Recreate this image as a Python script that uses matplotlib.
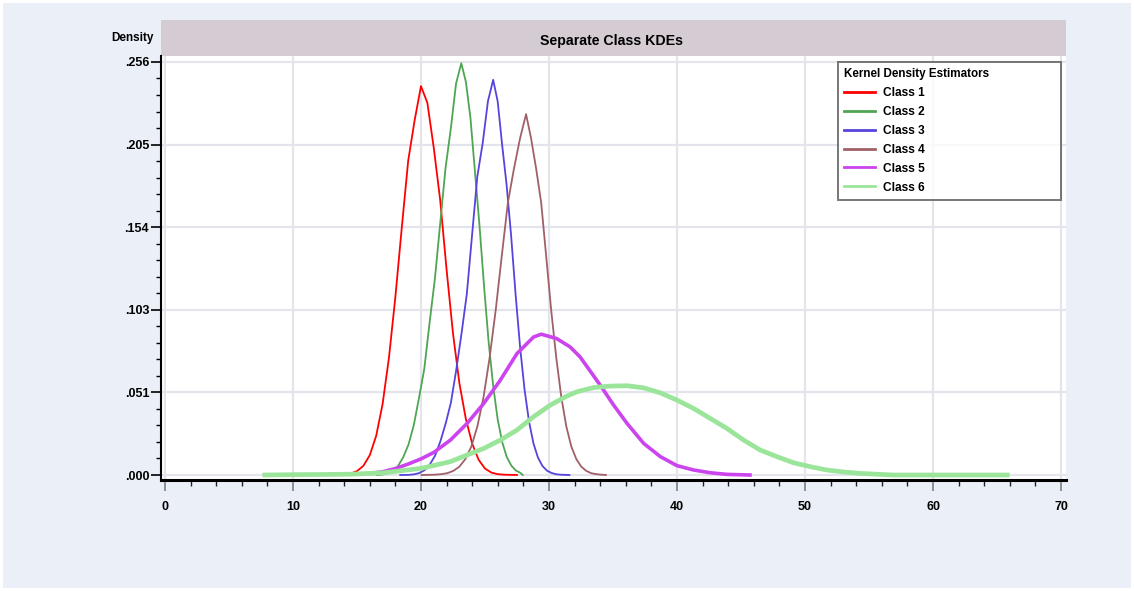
import numpy as np
import matplotlib.pyplot as plt
from matplotlib.patches import Rectangle

plt.rcParams['font.family'] = ['Liberation Sans', 'DejaVu Sans']
plt.rcParams['font.weight'] = 'bold'

# Class 1 (red)
x1 = [14.3, 14.5, 15.0, 15.5, 16.0, 16.5, 17.0, 17.5, 18.0, 18.5, 19.0, 19.5, 20.0,
      20.5, 21.0, 21.5, 22.0, 22.5, 23.0, 23.5, 24.0, 24.5, 25.0, 25.5, 26.0, 26.5, 27.0, 27.5]
y1 = [0.0005, 0.0009, 0.0024, 0.0057, 0.0123, 0.0243, 0.0440, 0.0729, 0.1106, 0.1535, 0.1950, 0.2200, 0.2414,
      0.2310, 0.2030, 0.1707, 0.1275, 0.0880, 0.0570, 0.0350, 0.0195, 0.0095, 0.0040, 0.0015, 0.0005, 0.0002, 0.0001, 0.0]

# Class 2 (green)
x2 = [16.55, 16.96, 17.38, 17.79, 18.2, 18.61, 19.03, 19.44, 19.85, 20.26, 20.68, 21.09, 21.5, 21.91, 22.33, 22.74, 23.15,
      23.51, 23.86, 24.22, 24.57, 24.93, 25.28, 25.64, 25.99, 26.35, 26.7, 27.06, 27.41, 27.77, 27.95]
y2 = [0.0, 0.0003, 0.0010, 0.0025, 0.0055, 0.0110, 0.0190, 0.0310, 0.0480, 0.0660, 0.0950, 0.1220, 0.1560, 0.1900, 0.2150, 0.2430, 0.2556,
      0.2440, 0.2220, 0.1880, 0.1550, 0.1170, 0.0830, 0.0553, 0.0346, 0.0203, 0.0112, 0.0058, 0.0028, 0.0013, 0.0]

# Class 3 (blue)
x3 = [18.38, 19.04, 19.45, 19.87, 20.28, 20.69, 21.10, 21.52, 21.93, 22.34, 22.75, 23.17, 23.58, 23.99, 24.40, 24.82, 25.23, 25.64,
      25.99, 26.34, 26.69, 27.04, 27.39, 27.74, 28.09, 28.44, 28.79, 29.14, 29.49, 29.84, 30.19, 30.54, 30.89, 31.24, 31.6]
y3 = [0.0, 0.0001, 0.0004, 0.0012, 0.0030, 0.0065, 0.0120, 0.0210, 0.0320, 0.0450, 0.0650, 0.0880, 0.1123, 0.1488, 0.1852, 0.2060, 0.2320, 0.2453,
      0.2320, 0.2050, 0.1800, 0.1488, 0.1123, 0.0796, 0.0531, 0.0332, 0.0195, 0.0108, 0.0056, 0.0027, 0.0013, 0.0005, 0.0002, 0.0001, 0.0]

# Class 4 (brown)
x4 = [20.05, 20.61, 21.09, 21.56, 22.04, 22.51, 22.99, 23.46, 23.94, 24.41, 24.89, 25.36, 25.84, 26.31, 26.79, 27.26, 27.74, 28.21,
      28.60, 29.0, 29.39, 29.78, 30.17, 30.57, 30.96, 31.35, 31.74, 32.14, 32.53, 32.92, 33.31, 33.71, 34.1, 34.45]
y4 = [0.0, 0.0001, 0.0002, 0.0005, 0.0011, 0.0025, 0.0051, 0.0098, 0.0178, 0.0303, 0.0485, 0.0727, 0.1025, 0.1359, 0.1691, 0.1900, 0.2090, 0.2240,
      0.2090, 0.1900, 0.1691, 0.1359, 0.1025, 0.0727, 0.0485, 0.0303, 0.0178, 0.0098, 0.0051, 0.0025, 0.0011, 0.0005, 0.0002, 0.0]

# Class 5 (magenta)
x5 = [16.0, 17.0, 18.0, 19.0, 20.0, 21.0, 22.3, 23.6, 24.9, 26.2, 27.5, 28.8, 29.4, 30.6, 31.65, 32.43,
      34.0, 35.05, 36.1, 37.4, 38.7, 40.0, 41.3, 42.6, 43.9, 45.7]
y5 = [0.0010, 0.0020, 0.0040, 0.0068, 0.0100, 0.0140, 0.0217, 0.0320, 0.0444, 0.0589, 0.0754, 0.0857, 0.0874, 0.0847, 0.0795, 0.0733,
      0.0558, 0.0434, 0.0320, 0.0196, 0.0114, 0.0058, 0.0031, 0.0014, 0.0004, 0.0]

# Class 6 (light green)
x6 = [7.8, 10.0, 12.0, 14.5, 17.1, 20.0, 22.3, 23.6, 24.9, 26.2, 27.5, 28.8, 30.1, 31.4, 32.2, 33.5, 34.8, 36.1,
      37.4, 38.7, 40.0, 41.3, 42.6, 43.9, 45.2, 46.5, 47.8, 49.1, 50.4, 51.7, 53.0, 54.3, 56.9, 65.8]
y6 = [0.0, 0.0002, 0.0003, 0.0005, 0.0014, 0.0041, 0.0083, 0.0124, 0.0165, 0.0217, 0.0279, 0.0362, 0.0434, 0.0490, 0.0517, 0.0543, 0.0552, 0.0554,
      0.0541, 0.0510, 0.0465, 0.0413, 0.0351, 0.0289, 0.0217, 0.0155, 0.0114, 0.0076, 0.0052, 0.0031, 0.0019, 0.0010, 0.0, 0.0]

labels = ['Class 1', 'Class 2', 'Class 3', 'Class 4', 'Class 5', 'Class 6']
colors = ['#FF0000', '#4FA552', '#5544DD', '#A06068', '#CC44EE', '#9BE59B']
widths = [1.3, 1.3, 1.3, 1.3, 2.6, 3.4]

yticks = [0, 0.05128, 0.10256, 0.15384, 0.20512, 0.2564]
ytick_labels = ['.000', '.051', '.103', '.154', '.205', '.256']
xticks = [0, 10, 20, 30, 40, 50, 60, 70]

W, H = 1134, 591
fig = plt.figure(figsize=(W / 100, H / 100), dpi=100)
fig.patch.set_facecolor('white')
fig.patches.append(Rectangle((3 / W, 3 / H), 1128 / W, 585 / H, transform=fig.transFigure,
                             facecolor='#EBF0F8', edgecolor='none', zorder=-10))
# title bar
fig.patches.append(Rectangle((161 / W, 1 - 56 / H), 905 / W, 36 / H, transform=fig.transFigure,
                             facecolor='#D5CBD3', edgecolor='none', zorder=-5))
fig.text(612 / W, 1 - 41 / H, 'Separate Class KDEs', ha='center', va='center', fontsize=10.2, fontweight='bold')
fig.text(132 / W, 1 - 38 / H, 'Density', ha='center', va='center', fontsize=8.5, fontweight='bold')

ax = fig.add_axes([161 / W, 1 - 480 / H, 905 / W, 424 / H])
ax.set_facecolor('white')

xs = [x1, x2, x3, x4, x5, x6]
ys = [y1, y2, y3, y4, y5, y6]
for x, y, lab, c, lw in zip(xs, ys, labels, colors, widths):
    ax.plot(x, y, color=c, lw=lw, label=lab, solid_joinstyle='round')

ax.set_xlim(-0.31, 70.39)
ax.set_ylim(-0.0031, 0.2601)

ax.set_xticks(xticks)
ax.set_xticks(np.arange(0, 71, 2), minor=True)
ax.set_yticks(yticks)
ax.set_yticklabels(ytick_labels)
ax.set_yticks(np.arange(0, 0.26, 0.010256), minor=True)

for s in ['top', 'right']:
    ax.spines[s].set_visible(False)
ax.spines['left'].set_linewidth(1.5)
ax.spines['bottom'].set_linewidth(2.2)

ax.tick_params(axis='x', which='major', direction='out', length=8, width=1.2, color='#808080',
               labelsize=9, pad=7)
ax.tick_params(axis='x', which='minor', direction='out', length=4, width=1.0, color='#222222')
ax.tick_params(axis='y', which='major', direction='out', length=7, width=1.2, color='black',
               labelsize=9, pad=1.5)
ax.tick_params(axis='y', which='minor', direction='out', length=3.5, width=1.0, color='black')

ax.grid(True, which='major', color='#E4E4EC', lw=1.6)
ax.set_axisbelow(True)

leg = ax.legend(loc='upper left', bbox_to_anchor=(677 / 905, 275 / 424, 223 / 905, 143 / 424), mode='expand',
                title='Kernel Density Estimators', alignment='left', fontsize=8.6, title_fontsize=8.4,
                frameon=True, fancybox=False, borderaxespad=0, handlelength=2.6, handletextpad=0.7,
                labelspacing=0.58, borderpad=0.5)
leg.get_frame().set_edgecolor('#555555')
leg.get_frame().set_linewidth(1.4)
leg.get_title().set_fontweight('bold')
for h in leg.get_lines():
    h.set_linewidth(2.0)

fig.savefig('out.png', dpi=100)
